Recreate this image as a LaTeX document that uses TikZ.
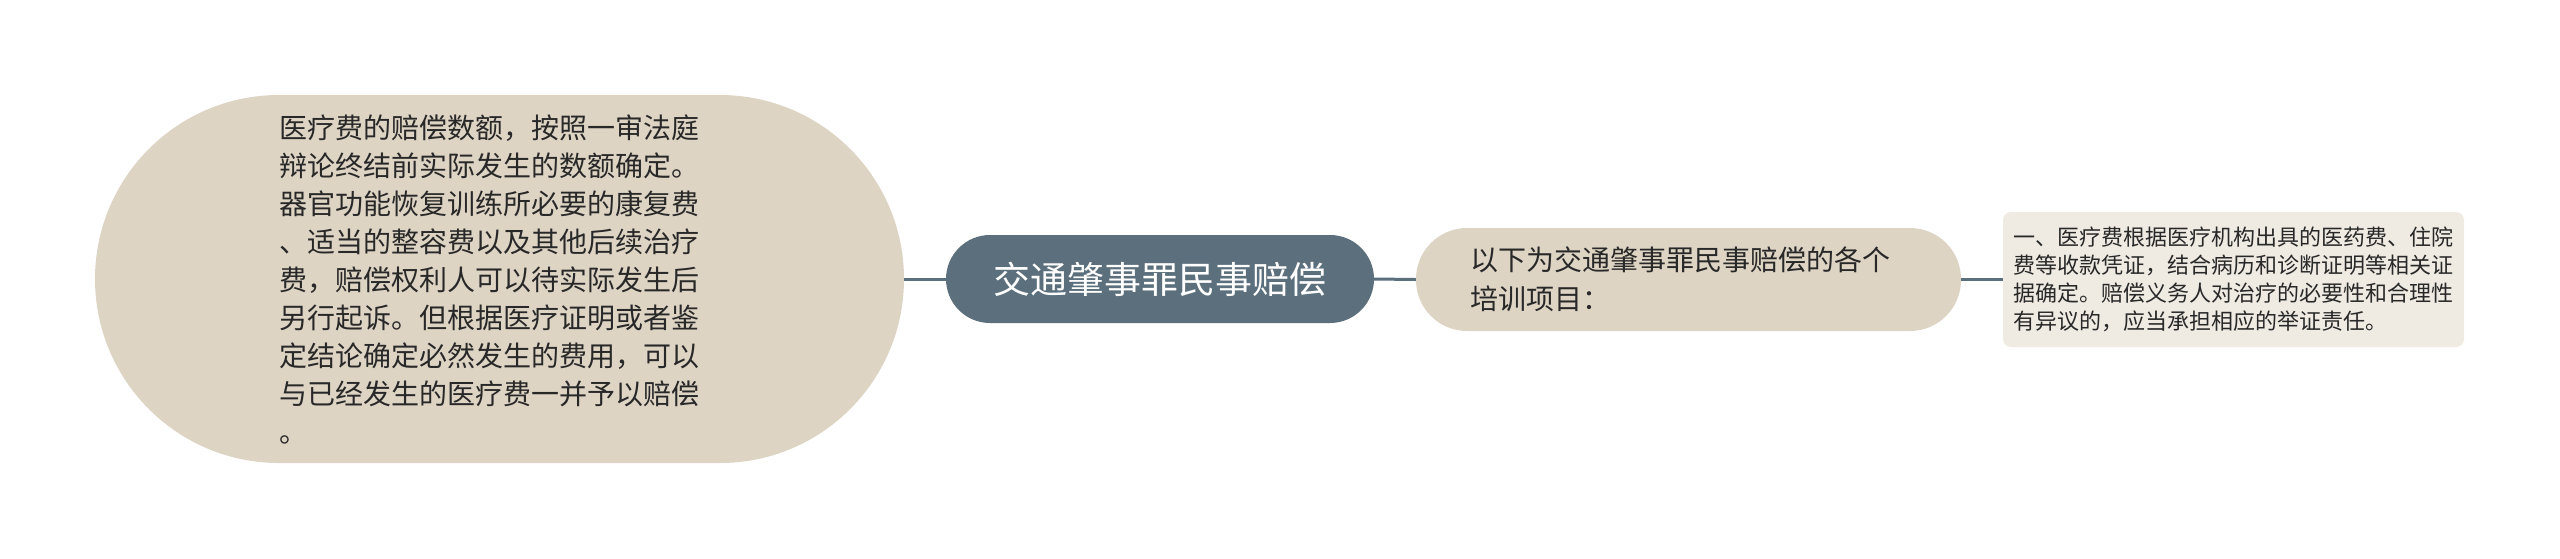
\documentclass[tikz,border=0pt]{standalone}
\usepackage{fontspec}
\setmainfont{Noto Sans CJK SC}
\usepackage{tikz}
\definecolor{beige}{RGB}{222,212,196}
\definecolor{ardoise}{RGB}{91,111,124}
\definecolor{creme}{RGB}{239,235,227}
\definecolor{texte}{RGB}{40,40,40}

\begin{document}
\begin{tikzpicture}[x=1pt,y=-1pt,
  bulle/.style={fill=beige,text=texte,align=left,inner sep=0pt},
  lien/.style={color=ardoise,line width=3pt}]
\useasboundingbox (0,0) rectangle (2560,558);
% noeud central
\node[fill=ardoise,text=white,inner sep=0pt,minimum width=428pt,minimum height=88pt,rounded corners=44pt,font=\fontsize{37}{44}\selectfont](centre) at (1160,279){交通肇事罪民事赔偿};
% branche gauche
\node[bulle,minimum width=809pt,minimum height=368pt,rounded corners=184pt,text width=441pt,font=\fontsize{28}{38}\selectfont](frais) at (499.5,279){医疗费的赔偿数额，按照一审法庭\\辩论终结前实际发生的数额确定。\\器官功能恢复训练所必要的康复费\\、适当的整容费以及其他后续治疗\\费，赔偿权利人可以待实际发生后\\另行起诉。但根据医疗证明或者鉴\\定结论确定必然发生的费用，可以\\与已经发生的医疗费一并予以赔偿\\。};
% branche droite
\node[bulle,minimum width=545pt,minimum height=103pt,rounded corners=51pt,text width=437pt,font=\fontsize{28}{39}\selectfont](projets) at (1688.5,279.5){以下为交通肇事罪民事赔偿的各个\\培训项目：};
\node[bulle,fill=creme,minimum width=461pt,minimum height=135pt,rounded corners=8pt,text width=441pt,font=\fontsize{22}{28}\selectfont](detail) at (2233.5,279.5){一、医疗费根据医疗机构出具的医药费、住院\\费等收款凭证，结合病历和诊断证明等相关证\\据确定。赔偿义务人对治疗的必要性和合理性\\有异议的，应当承担相应的举证责任。};
% liens
\draw[lien](frais.east)--(centre.west);
\draw[lien](centre.east)--(projets.west);
\draw[lien](projets.east)--(detail.west);
\end{tikzpicture}
\end{document}
